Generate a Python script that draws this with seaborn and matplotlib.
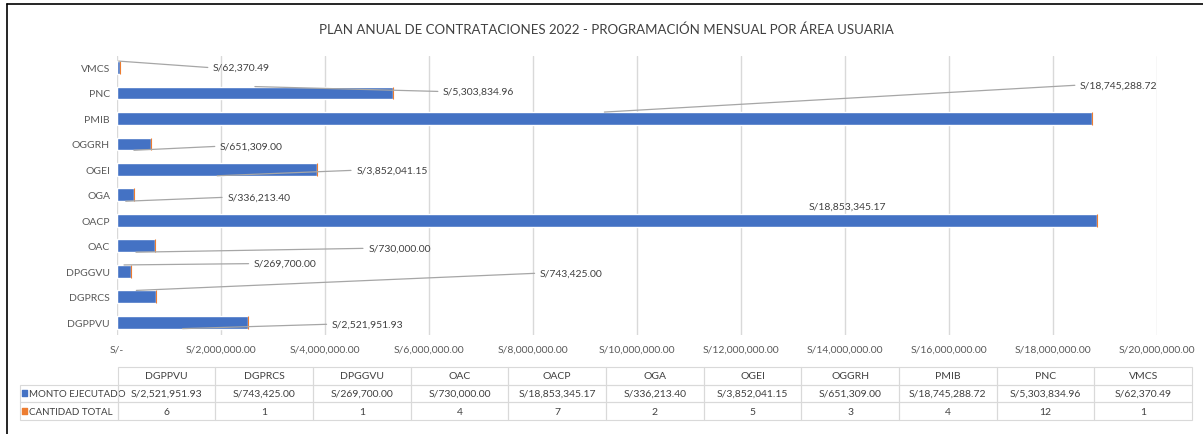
import numpy as np
import pandas as pd
import matplotlib
matplotlib.use("Agg")
import matplotlib.pyplot as plt
import matplotlib.ticker as mticker
from matplotlib import font_manager
from matplotlib.lines import Line2D
import seaborn as sns

# -------------------------------
# data (read off the chart / data table)
# -------------------------------
areas = ["DGPPVU", "DGPRCS", "DPGGVU", "OAC", "OACP", "OGA",
         "OGEI", "OGGRH", "PMIB", "PNC", "VMCS"]
monto = [2521951.93, 743425.00, 269700.00, 730000.00, 18853345.17, 336213.40,
         3852041.15, 651309.00, 18745288.72, 5303834.96, 62370.49]
cantidad = [6, 1, 1, 4, 7, 2, 5, 3, 4, 12, 1]
row_names = ["MONTO EJECUTADO", "CANTIDAD TOTAL"]
x_ticks = np.arange(0, 20000001, 2000000)

# data label placement: x on value axis, row offset, leader start edge (0 = no leader)
lbl_x = [4.13e6, 8.13e6, 2.63e6, 4.83e6, 14.04e6, 2.12e6,
         4.6e6, 1.98e6, 18.52e6, 6.27e6, 1.846e6]
lbl_dy = [0.08, -0.92, -0.3, 0.1, -0.55, 0.1, 0.04, 0.1, -1.3, -0.06, 0.0]
lbl_edge = [1, -1, -1, 1, 0, 1, 1, 1, -1, -1, -1]

BLUE = "#4472C4"
ORANGE = "#ED7D31"
GRID = "#D9D9D9"
TXT = "#595959"
FS = 7.5


def pick_font(cands):
    names = {f.name for f in font_manager.fontManager.ttflist}
    for c in cands:
        if c in names:
            return c
    return "DejaVu Sans"


sns.set_style("white")
font = pick_font(["Liberation Sans Narrow", "Lato", "Open Sans"])
plt.rcParams["font.family"] = [font, "DejaVu Sans"]

df = pd.DataFrame({"area": areas, "monto": monto, "cantidad": cantidad})
order = areas[::-1]
pos = {a: i for i, a in enumerate(order)}

W, H = 1203, 435
fig = plt.figure(figsize=(W / 100, H / 100), dpi=100)
ax = fig.add_axes([117 / W, 99 / H, 1040 / W, 279 / H])

sns.barplot(data=df, x="monto", y="area", order=order, color=BLUE,
            width=0.5, saturation=1, errorbar=None, ax=ax)
ys = [pos[a] for a in areas]
ax.barh(ys, cantidad, left=monto, height=0.5, color=ORANGE,
        edgecolor=ORANGE, linewidth=0.8)

ax.set_xlim(0, 20e6)
ax.set_ylim(10.5, -0.45)
ax.set_xticks(x_ticks)
ax.xaxis.set_major_formatter(mticker.FuncFormatter(
    lambda v, p: "S/-" if v == 0 else f"S/{v:,.2f}"))
ax.grid(axis="x", color=GRID, lw=1)
ax.grid(axis="y", visible=False)
ax.set_axisbelow(True)
ax.tick_params(axis="x", length=0, labelsize=FS, colors=TXT, pad=7)
ax.tick_params(axis="y", length=0, labelsize=FS, colors=TXT, pad=5)
for s in ax.spines.values():
    s.set_visible(False)
ax.set_xlabel("")
ax.set_ylabel("")

# data labels with leader lines
for i, a in enumerate(areas):
    y = pos[a]
    v = monto[i]
    ty = y + lbl_dy[i]
    txt = f"S/{v:,.2f}"
    if lbl_edge[i] == 0:
        ax.text(lbl_x[i], ty, txt, ha="center", va="center", fontsize=FS, color="#404040")
    else:
        ax.text(lbl_x[i], ty, txt, ha="left", va="center", fontsize=FS, color="#404040")
        ax.plot([v / 2, lbl_x[i] - 0.1e6], [y + 0.25 * lbl_edge[i], ty],
                color="#A6A6A6", lw=0.9, zorder=4)

# data table under the chart (first column holds the series names)
cell_text = [[row_names[0]] + [f"S/{v:,.2f}" for v in monto],
             [row_names[1]] + [str(c) for c in cantidad]]
tx0 = (20 - 117) / 1040
ty_top = (336 - 368) / 279
ty_bot = (336 - 421) / 279
tbl = ax.table(cellText=cell_text, colLabels=[""] + areas,
               colWidths=[1 / 12] * 12, cellLoc="center",
               bbox=[tx0, ty_bot, (1192 - 20) / 1040, ty_top - ty_bot])
tbl.auto_set_font_size(False)
for (r, c), cell in tbl.get_celld().items():
    cell.set_edgecolor(GRID)
    cell.set_facecolor("none")
    cell.set_linewidth(0.8)
    cell.get_text().set_fontsize(FS)
    cell.get_text().set_color("#404040")
    if c == 0:
        cell.get_text().set_ha("left")
        cell.get_text().set_fontsize(7)
        cell.PAD = 0.095
    if r == 0 and c == 0:
        cell.visible_edges = ""

# legend keys in the table
ax.scatter([(24.5 - 117) / 1040] * 2, [(336 - 394) / 279, (336 - 412) / 279],
           marker="s", s=14, c=[BLUE, ORANGE], transform=ax.transAxes,
           clip_on=False, zorder=5)

fig.text(606 / W, 1 - 30 / H,
         "PLAN ANUAL DE CONTRATACIONES 2022 - PROGRAMACIÓN MENSUAL POR ÁREA USUARIA",
         ha="center", va="center", fontsize=9.5, color="#404040")

# frame lines (left and top)
fig.add_artist(Line2D([7 / W, 7 / W], [0, 1 - 5 / H], color="black", lw=1.2,
                      transform=fig.transFigure))
fig.add_artist(Line2D([7 / W, 1], [1 - 5 / H, 1 - 5 / H], color="black", lw=1.2,
                      transform=fig.transFigure))

fig.savefig("out.png", dpi=100)
